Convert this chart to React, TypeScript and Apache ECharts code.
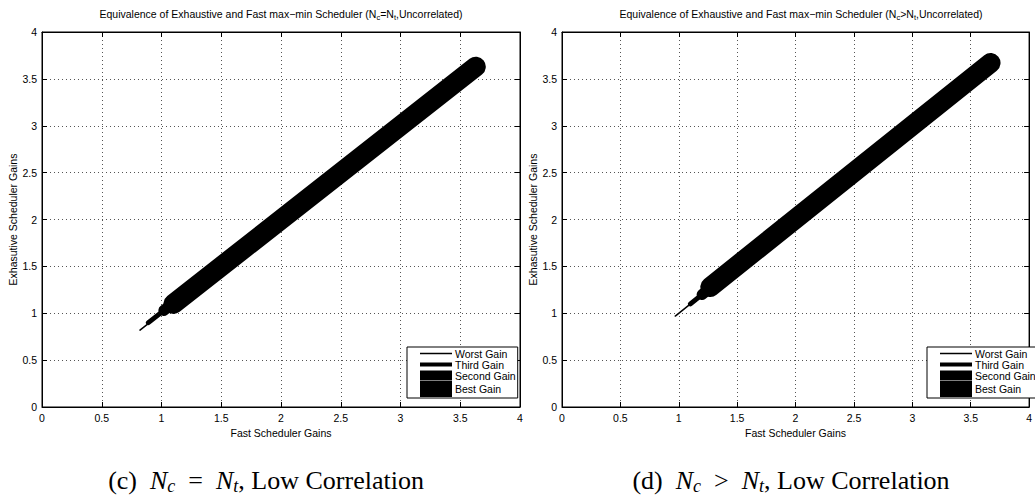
import React, { useEffect, useRef } from "react";
import * as echarts from "echarts";

// ---------- data ----------
const seriesNames = ["Worst Gain", "Third Gain", "Second Gain", "Best Gain"];
const xTickLabels = ["0", "0.5", "1", "1.5", "2", "2.5", "3", "3.5", "4"];

// panel (c): Nc = Nt, low correlation
const worstLeft = [[0.82, 0.82], [3.6, 3.6]];
const thirdLeft = [[0.89, 0.9], [3.6, 3.6]];
const secondLeft = [[1.02, 1.03], [3.6, 3.61]];
const bestLeft = [[1.1, 1.1], [3.63, 3.63]];

// panel (d): Nc > Nt, low correlation
const worstRight = [[0.97, 0.97], [3.65, 3.65]];
const thirdRight = [[1.1, 1.1], [3.65, 3.65]];
const secondRight = [[1.2, 1.2], [3.65, 3.66]];
const bestRight = [[1.27, 1.28], [3.67, 3.67]];

// ---------- styles ----------
const FONT = "'Liberation Sans', Arial, Helvetica, sans-serif";
const SERIF = "Liberation Serif";
const widths = [1.5, 5, 11, 20];
const legendWidths = [1.5, 4, 10, 16];

const W = 1035;
const H = 497;
const gridTop = 32;
const gridH = 375;
const gridW = 478;
const gridLefts = [42, 562];

export default function App() {
  const ref = useRef<HTMLDivElement>(null);

  useEffect(() => {
    if (!ref.current) return;
    document.body.style.margin = "0";
    const chart = echarts.init(ref.current, undefined, { renderer: "svg" });

    const panels = [
      [worstLeft, thirdLeft, secondLeft, bestLeft],
      [worstRight, thirdRight, secondRight, bestRight],
    ];

    const xAxes: any[] = [];
    const yAxes: any[] = [];
    const series: any[] = [];
    const legends: any[] = [];

    gridLefts.forEach((gl, g) => {
      const tickCommon = {
        inside: true,
        length: 5,
        lineStyle: { color: "#000", width: 1 },
      };
      const fmt = (v: number) => xTickLabels[Math.round(v * 2)] ?? String(v);
      xAxes.push({
        gridIndex: g,
        type: "value",
        min: 0,
        max: 4,
        interval: 0.5,
        position: "bottom",
        axisLine: { show: true, onZero: false, lineStyle: { color: "#000", width: 1 } },
        axisTick: tickCommon,
        axisLabel: { color: "#000", fontSize: 10.5, fontFamily: FONT, margin: 5, formatter: fmt },
        splitLine: { show: true, lineStyle: { color: "#555", type: [1, 3], width: 1 } },
        name: "Fast Scheduler Gains",
        nameLocation: "middle",
        nameGap: 16,
        nameTextStyle: { color: "#000", fontSize: 10.5, fontFamily: FONT },
      });
      xAxes.push({
        gridIndex: g,
        type: "value",
        min: 0,
        max: 4,
        interval: 0.5,
        position: "top",
        axisLine: { show: true, onZero: false, lineStyle: { color: "#000", width: 1 } },
        axisTick: tickCommon,
        axisLabel: { show: false },
        splitLine: { show: false },
      });
      yAxes.push({
        gridIndex: g,
        type: "value",
        min: 0,
        max: 4,
        interval: 0.5,
        position: "left",
        axisLine: { show: true, onZero: false, lineStyle: { color: "#000", width: 1 } },
        axisTick: tickCommon,
        axisLabel: { color: "#000", fontSize: 10.5, fontFamily: FONT, margin: 5, formatter: fmt },
        splitLine: { show: true, lineStyle: { color: "#555", type: [1, 3], width: 1 } },
        name: "Exhasutive Scheduler Gains",
        nameLocation: "middle",
        nameGap: 24,
        nameTextStyle: { color: "#000", fontSize: 10.5, fontFamily: FONT },
      });
      yAxes.push({
        gridIndex: g,
        type: "value",
        min: 0,
        max: 4,
        interval: 0.5,
        position: "right",
        axisLine: { show: true, onZero: false, lineStyle: { color: "#000", width: 1 } },
        axisTick: tickCommon,
        axisLabel: { show: false },
        splitLine: { show: false },
      });

      panels[g].forEach((data, i) => {
        series.push({
          type: "line",
          name: seriesNames[i],
          xAxisIndex: g * 2,
          yAxisIndex: g * 2,
          data,
          symbol: "none",
          showSymbol: false,
          silent: true,
          lineStyle: { color: "#000", width: widths[i], cap: "round", join: "round" },
          itemStyle: { color: "#000" },
          z: 3 + i,
        });
      });

      legends.push({
        orient: "vertical",
        left: gl + 365,
        top: 347,
        itemWidth: 32,
        itemHeight: 13,
        itemGap: 0,
        padding: [1, 2, 1, 5],
        borderColor: "#000",
        borderWidth: 1,
        backgroundColor: "#fff",
        selectedMode: false,
        textStyle: { color: "#000", fontSize: 10.5, fontFamily: FONT, padding: [0, 0, 0, -2] },
        data: seriesNames.map((n, i) => ({
          name: n,
          itemStyle: { opacity: 0 },
          lineStyle: { width: legendWidths[i], cap: "butt", color: "#000" },
        })),
        z: 10,
      });
    });

    const titleRich = {
      a: { fontSize: 10.5, fontFamily: FONT, fill: "#000" },
      s: { fontSize: 7.5, fontFamily: FONT, fill: "#000", padding: [6, 0, 0, 0] },
    };
    const capRich = {
      r: { font: "26px " + SERIF, fill: "#000" },
      i: { font: "italic 26px " + SERIF, fill: "#000" },
      is: { font: "italic 18px " + SERIF, fill: "#000", padding: [12, 0, 0, 0] },
    };

    const option: any = {
      animation: false,
      backgroundColor: "#fff",
      grid: gridLefts.map((gl) => ({
        left: gl,
        top: gridTop,
        width: gridW,
        height: gridH,
        show: true,
        borderColor: "#000",
        borderWidth: 1,
        backgroundColor: "#fff",
        containLabel: false,
      })),
      xAxis: xAxes,
      yAxis: yAxes,
      legend: legends,
      series,
      graphic: [
        {
          type: "text",
          x: 281,
          y: 14,
          style: {
            text: "{a|Equivalence of Exhaustive and Fast max\u2212min Scheduler (N}{s|c}{a|=N}{s|t}{a|,Uncorrelated)}",
            rich: titleRich,
            align: "center",
            verticalAlign: "middle",
          },
        },
        {
          type: "text",
          x: 801,
          y: 14,
          style: {
            text: "{a|Equivalence of Exhaustive and Fast max\u2212min Scheduler (N}{s|c}{a|>N}{s|t}{a|,Uncorrelated)}",
            rich: titleRich,
            align: "center",
            verticalAlign: "middle",
          },
        },
        {
          type: "text",
          x: 266,
          y: 480,
          style: {
            text: "{r|(c)  }{i|N}{is|c}{r|  =  }{i|N}{is|t}{r|, Low Correlation}",
            rich: capRich,
            align: "center",
            verticalAlign: "middle",
          },
        },
        {
          type: "text",
          x: 791,
          y: 480,
          style: {
            text: "{r|(d)  }{i|N}{is|c}{r|  >  }{i|N}{is|t}{r|, Low Correlation}",
            rich: capRich,
            align: "center",
            verticalAlign: "middle",
          },
        },
      ],
    };

    chart.setOption(option);
    return () => chart.dispose();
  }, []);

  return (
    <div
      ref={ref}
      style={{ position: "absolute", left: 0, top: 0, width: W, height: H, overflow: "hidden" }}
    />
  );
}
